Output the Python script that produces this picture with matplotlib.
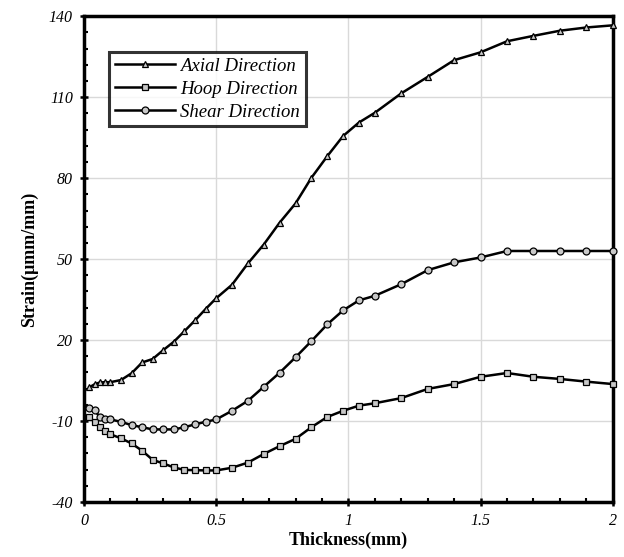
import matplotlib
matplotlib.use("Agg")
import matplotlib.pyplot as plt
from matplotlib.ticker import FixedLocator

# thickness positions (mm)
thickness = [0.02, 0.04, 0.06, 0.08, 0.10,
             0.14, 0.18, 0.22, 0.26, 0.30, 0.34, 0.38, 0.42, 0.46, 0.50,
             0.56, 0.62, 0.68, 0.74, 0.80, 0.86, 0.92, 0.98, 1.04, 1.10,
             1.2, 1.3, 1.4, 1.5, 1.6, 1.7, 1.8, 1.9, 2.0]

axial = [2.5, 3.6, 4.3, 4.4, 4.4,
         5.2, 7.7, 11.7, 13.0, 16.3, 19.4, 23.3, 27.3, 31.5, 35.5,
         40.5, 48.4, 55.4, 63.5, 70.6, 80.1, 88.1, 95.6, 100.6, 104.2,
         111.4, 117.5, 123.7, 126.6, 130.7, 132.7, 134.6, 135.8, 136.6]

hoop = [-8.6, -10.3, -12.1, -13.7, -14.9,
        -16.4, -18.3, -21.0, -24.4, -25.7, -27.2, -28.1, -28.2, -28.3, -28.3,
        -27.3, -25.4, -22.2, -19.3, -16.6, -12.3, -8.5, -6.2, -4.3, -3.4,
        -1.5, 1.9, 3.7, 6.4, 7.8, 6.4, 5.6, 4.6, 3.7]

shear = [-5.3, -5.9, -8.6, -9.4, -9.4,
         -10.3, -11.5, -12.3, -13.1, -13.1, -13.1, -12.3, -11.2, -10.3, -9.4,
         -6.2, -2.5, 2.7, 7.9, 13.6, 19.6, 25.8, 31.0, 34.7, 36.4,
         40.7, 45.9, 48.8, 50.6, 53.0, 53.0, 53.0, 53.0, 53.0]

series = [("Axial Direction", axial, "^"),
          ("Hoop Direction", hoop, "s"),
          ("Shear Direction", shear, "o")]

x_ticks = [0, 0.5, 1, 1.5, 2]
x_labels = ['0', '0.5', '1', '1.5', '2']
y_ticks = [-40, -10, 20, 50, 80, 110, 140]

plt.rcParams['font.family'] = ['Liberation Serif', 'DejaVu Serif']
plt.rcParams['axes.unicode_minus'] = False

fig = plt.figure(figsize=(6.24, 5.57), dpi=100)
ax = fig.add_axes([0.1346, 0.0987, 0.8474, 0.8723])

for name, vals, mk in series:
    ax.plot(thickness, vals, color='black', lw=1.8, marker=mk, ms=5,
            mfc='#c8c8c8', mec='black', mew=0.9, label=name, clip_on=False, zorder=3)

ax.set_xlim(0, 2)
ax.set_ylim(-40, 140)
ax.set_xticks(x_ticks)
ax.set_xticklabels(x_labels)
ax.set_yticks(y_ticks)
ax.set_yticklabels([str(v) for v in y_ticks])
ax.xaxis.set_minor_locator(FixedLocator([i * 0.1 for i in range(21)]))
ax.yaxis.set_minor_locator(FixedLocator(list(range(-40, 141, 6))))

ax.grid(True, which='major', color='#d9d9d9', lw=1.0, zorder=0)
ax.set_axisbelow(True)

for s in ax.spines.values():
    s.set_linewidth(2.5)

ax.tick_params(which='major', direction='inout', length=6, width=1.8, labelsize=11.5, pad=5)
ax.tick_params(which='minor', direction='in', length=3, width=1.5)
for lbl in ax.get_xticklabels() + ax.get_yticklabels():
    lbl.set_fontstyle('italic')

ax.set_xlabel('Thickness(mm)', fontsize=13, fontweight='bold', labelpad=2)
ax.set_ylabel('Strain(\u03bcmm/mm)', fontsize=13, fontweight='bold', labelpad=8)

leg = ax.legend(loc='upper left', bbox_to_anchor=(0.03, 0.945), frameon=True, fancybox=False,
                edgecolor='black', prop={'style': 'italic', 'size': 13.5},
                handlelength=3.2, borderpad=0.3, labelspacing=0.3, handletextpad=0.3)
leg.get_frame().set_linewidth(2.2)

fig.savefig('out.png', dpi=100)
